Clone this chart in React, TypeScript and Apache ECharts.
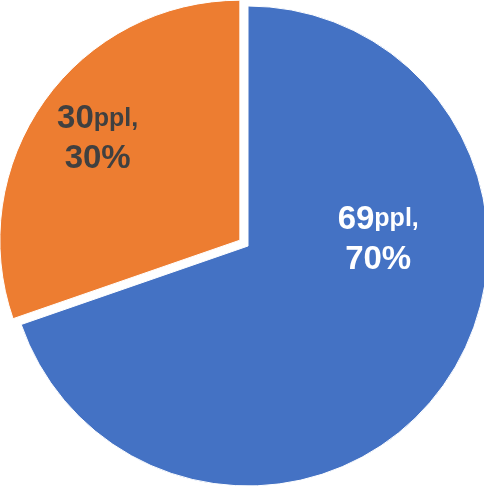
import React, { useEffect, useRef } from "react";
import * as echarts from "echarts";

const categories = ["A", "B"];
const values = [69, 30];
const percents = ["70%", "30%"];
const colors = ["#4472C4", "#ED7D31"];
const labelColors = ["#FFFFFF", "#404040"];
const labelShift = [
  { dx: 30, dy: -80 },
  { dx: -42, dy: -32 },
];

export default function App() {
  const ref = useRef<HTMLDivElement>(null);
  useEffect(() => {
    if (!ref.current) return;
    const chart = echarts.init(ref.current, undefined, { renderer: "svg" });
    chart.setOption({
      animation: false,
      series: [
        {
          type: "pie",
          center: [248, 246],
          radius: 240,
          startAngle: 90,
          clockwise: true,
          selectedMode: "single",
          selectedOffset: 10,
          itemStyle: { borderColor: "#fff", borderWidth: 1 },
          label: {
            position: "inside",
            fontFamily: "Liberation Sans, Arial, sans-serif",
            fontWeight: "bold",
            fontSize: 33,
          },
          labelLine: { show: false },
          labelLayout: (p: any) => labelShift[p.dataIndex],
          data: categories.map((c, i) => ({
            name: c,
            value: values[i],
            selected: i === 1,
            itemStyle: { color: colors[i] },
            label: {
              formatter: `{a|${values[i]}}{b|ppl,}\n{a|${percents[i]}}`,
              rich: {
                a: {
                  fontSize: 33,
                  fontWeight: "bold",
                  color: labelColors[i],
                  fontFamily: "Liberation Sans, Arial, sans-serif",
                  lineHeight: 40,
                },
                b: {
                  fontSize: 25,
                  fontWeight: "bold",
                  color: labelColors[i],
                  fontFamily: "Liberation Sans, Arial, sans-serif",
                  lineHeight: 40,
                },
              },
            },
          })),
        },
      ],
    });
    return () => chart.dispose();
  }, []);
  return (
    <div
      ref={ref}
      style={{ position: "fixed", left: 0, top: 0, width: 484, height: 487 }}
    />
  );
}
